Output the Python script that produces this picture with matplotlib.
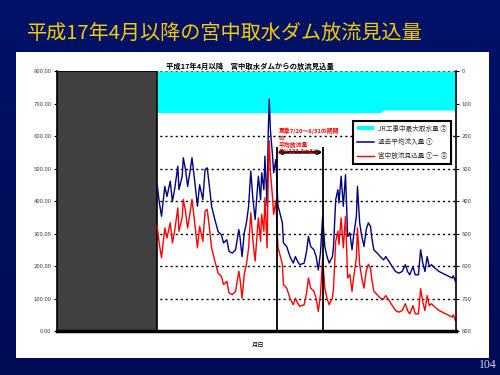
import numpy as np
import matplotlib.pyplot as plt
from matplotlib.patches import Rectangle, Patch
from matplotlib.lines import Line2D
from matplotlib.colors import LinearSegmentedColormap

plt.rcParams['font.family'] = ['Noto Sans CJK JP', 'DejaVu Sans']

# day of year (0 = 1 Jan) and past mean inflow (m3/s)
days = [90, 92, 94, 97, 99, 102, 104, 106, 109, 110, 113, 114, 116, 118, 120, 122, 124, 127, 129, 132,
        134, 136, 138, 140, 143, 146, 149, 151, 154, 156, 159, 162, 165, 166, 168, 170, 172, 174, 176, 178,
        180, 182, 183, 185, 186, 188, 189, 191, 192, 193, 194, 196, 197, 199, 201, 202, 205, 206, 209, 212,
        215, 217, 219, 221, 225, 227, 229, 231, 234, 236, 238, 240, 242, 244, 246, 248, 251, 252, 254, 256,
        257, 259, 261, 263, 265, 267, 269, 270, 273, 274, 276, 278, 280, 282, 284, 286, 287, 289, 292, 295,
        298, 300, 303, 306, 309, 312, 315, 318, 320, 322, 325, 327, 330, 332, 334, 336, 338, 340, 342, 345,
        349, 352, 355, 358, 361, 362, 364]
inflow = [450, 395, 353, 445, 414, 461, 399, 435, 507, 435, 476, 533, 497, 445, 487, 533, 476, 384, 450, 404,
          497, 502, 445, 384, 343, 306, 296, 271, 281, 245, 240, 250, 312, 291, 229, 302, 333, 384, 492, 404,
          343, 435, 476, 404, 487, 435, 538, 384, 610, 713, 620, 538, 487, 528, 384, 373, 333, 271, 260, 229,
          209, 229, 214, 204, 209, 240, 291, 260, 250, 229, 188, 240, 353, 260, 229, 209, 229, 260, 404, 435,
          394, 476, 384, 481, 291, 302, 250, 281, 353, 445, 333, 291, 260, 312, 333, 322, 291, 250, 240, 229,
          219, 229, 214, 198, 183, 178, 183, 204, 183, 173, 198, 173, 173, 250, 209, 183, 229, 198, 204, 194,
          183, 178, 173, 168, 163, 170, 152]

# JR max intake during the works (right axis, m3/s)
intake_switch_day = 296
intake_early = 128
intake_late = 120

past_end = 90        # 1 Apr
summer_start = 200   # 7/20
summer_end = 242     # 8/31
summer_note = '夏季7/20～8/31の期間\nの\n平均放流量\nQ＝124.8m3/s'

days = np.array(days)
inflow = np.array(inflow)
intake = np.where(days < intake_switch_day, intake_early, intake_late)
release = inflow - intake

fig = plt.figure(figsize=(5, 3.75), dpi=100)

# slide background
bg = fig.add_axes([0, 0, 1, 1], zorder=-10)
grad = np.linspace(0, 1, 256).reshape(-1, 1)
cmap = LinearSegmentedColormap.from_list('slide', ['#001268', '#000b56'])
bg.imshow(grad, aspect='auto', cmap=cmap, extent=[0, 1, 0, 1])
bg.axis('off')
fig.add_artist(Rectangle((0.032, 0.045), 0.946, 0.816, transform=fig.transFigure,
                         facecolor='white', edgecolor='none', zorder=-5))

fig.text(0.054, 0.912, '平成17年4月以降の宮中取水ダム放流見込量', color='#f5cc00',
         fontsize=14.5, va='center', ha='left')
fig.text(0.5, 0.824, '平成17年4月以降　宮中取水ダムからの放流見込量', color='black',
         fontsize=5.3, fontweight='bold', va='center', ha='center')
fig.text(0.994, 0.027, '104', family='Liberation Serif', color='#d8d8e8',
         fontsize=8.5, ha='right', va='center')

ax = fig.add_axes([0.114, 0.1173, 0.798, 0.6933])
ax2 = ax.twinx()
ax.set_zorder(ax2.get_zorder() + 1)
ax.patch.set_visible(False)

# right axis: intake, inverted
ax2.set_ylim(800, 0)
ax2.set_yticks(range(0, 801, 100))
ax2.set_yticklabels([str(v) for v in range(0, 801, 100)])
ax2.tick_params(axis='y', labelsize=4.3, labelcolor='#444444', length=2, pad=2)
ax2.yaxis.grid(True, linestyle=(0, (1.5, 2.2)), color='black', lw=1.0)
ax2.axvspan(-2, past_end, facecolor='#404040', edgecolor='black', lw=1.2, zorder=3)
ax2.fill_between(days, 0, intake, color='#00ffff', lw=0, zorder=2)
for s in ax2.spines.values():
    s.set_visible(False)

# left axis: flows
ax.plot(days, inflow, color='#000080', lw=1.0)
ax.plot(days, release, color='#ff0000', lw=1.0)
ax.set_xlim(-2, 364.5)
ax.set_ylim(0, 800)
ax.set_yticks(range(0, 801, 100))
ax.set_yticklabels([f'{v:.2f}' for v in range(0, 801, 100)])
ax.tick_params(axis='y', labelsize=4.3, labelcolor='#444444', length=2, pad=2)
ax.set_xticks([])
ax.spines['top'].set_visible(False)
ax.spines['bottom'].set_linewidth(2.5)
ax.spines['left'].set_linewidth(1.2)
ax.spines['right'].set_linewidth(1.2)
ax.text(0.504, -0.054, '月日', transform=ax.transAxes, fontsize=4.5, ha='center', va='center')

ax.vlines([summer_start, summer_end], 0, 565, color='black', lw=1.3)
ax.annotate('', xy=(summer_start, 550), xytext=(summer_end, 550),
            arrowprops=dict(arrowstyle='<|-|>', color='black', lw=2, mutation_scale=5,
                            shrinkA=0, shrinkB=0))
ax.text(summer_start + 1.5, 625, summer_note, color='red', fontsize=4.2,
        fontweight='bold', va='top', ha='left', linespacing=1.25)

handles = [Patch(facecolor='#00ffff', edgecolor='none'),
           Line2D([], [], color='#000080', lw=1.1),
           Line2D([], [], color='#ff0000', lw=1.0)]
labels = ['JR工事中最大取水量 ②', '過去平均流入量 ①', '宮中放流見込量 ①－ ②']
leg = ax.legend(handles, labels, loc='upper left', bbox_to_anchor=(0.742, 0.808),
                fontsize=4.8, frameon=True, fancybox=False, edgecolor='black', framealpha=1,
                borderpad=0.55, labelspacing=0.85, handlelength=2.6, handleheight=0.5,
                handletextpad=0.6, borderaxespad=0)
leg.get_frame().set_linewidth(1.5)
for t in leg.get_texts():
    t.set_color('#333333')

fig.savefig('out.png', dpi=100)
